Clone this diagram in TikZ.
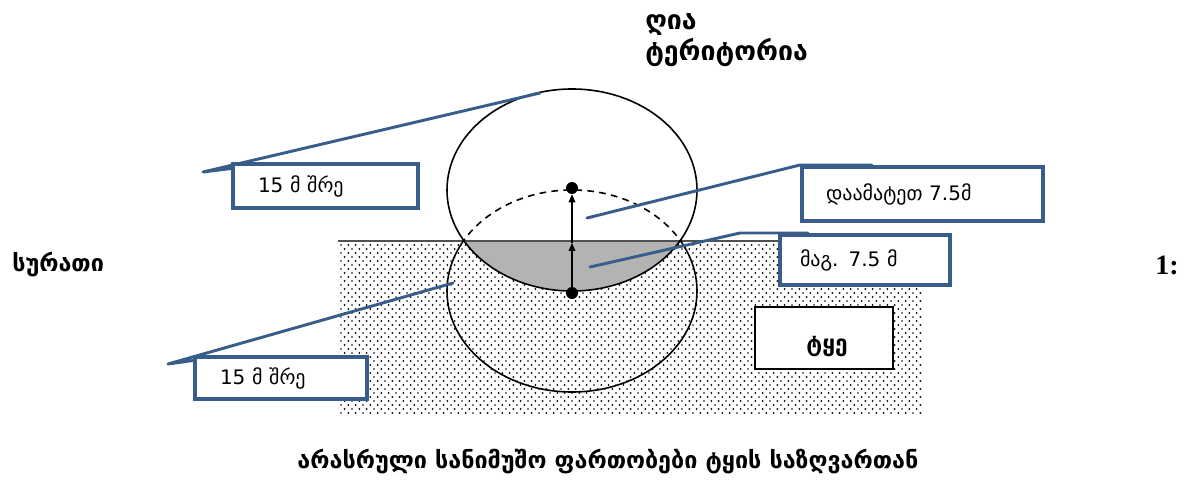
\documentclass[tikz,border=0pt]{standalone}
\usepackage{fontspec}
\setmainfont{DejaVu Sans}
\newfontfamily\numserif{Liberation Serif}
\usetikzlibrary{patterns,arrows.meta}
\pgfdeclarepatternformonly{soildots}{\pgfqpoint{-1pt}{-1pt}}{\pgfqpoint{6.5pt}{7pt}}{\pgfqpoint{5.5pt}{6pt}}{%
  \pgfpathcircle{\pgfqpoint{0pt}{0pt}}{0.7pt}%
  \pgfpathcircle{\pgfqpoint{2.75pt}{3pt}}{0.7pt}%
  \pgfusepath{fill}%
}
\definecolor{cblue}{HTML}{385D8A}
\definecolor{grayfill}{HTML}{B3B3B3}
\definecolor{groundline}{HTML}{505050}
\begin{document}
\begin{tikzpicture}[x=0.75pt,y=-0.75pt,
  cbox/.style={draw=cblue, line width=2.3pt, fill=white, align=left,
    font=\fontsize{15}{17}\selectfont, inner ysep=0pt},
  leader/.style={draw=cblue, line width=2.2pt, line join=round, line cap=round},
  ttl/.style={font=\bfseries\fontsize{17.5}{21}\selectfont, inner sep=0pt},
  dotnode/.style={circle, fill=black, inner sep=0pt, minimum size=9pt},
  rim/.style={line width=1.2pt},
  upar/.style={-{Triangle[length=6pt,width=5pt]}, line width=0.8pt}]

\useasboundingbox (0,0) rectangle (1193,481);

% ground with dots
\fill[pattern=soildots] (338,241) rectangle (922,413);
\begin{scope}
  \clip (338,241) rectangle (922,413);
  \fill[grayfill] (572,190) ellipse [x radius=93.75pt, y radius=75.75pt];
\end{scope}
\draw[line width=1.3pt, groundline] (338,241) -- (922,241);

% lower circle: dashed above ground, solid below
\begin{scope}
  \clip (300,0) rectangle (950,241);
  \draw[rim, dash pattern=on 5pt off 4pt] (572,291) ellipse [x radius=93.75pt, y radius=75.75pt];
\end{scope}
\begin{scope}
  \clip (300,241) rectangle (950,440);
  \draw[rim] (572,291) ellipse [x radius=93.75pt, y radius=75.75pt];
\end{scope}
% upper circle
\draw[rim] (572,190) ellipse [x radius=93.75pt, y radius=75.75pt];

% centre points and arrows
\node[dotnode] (dup) at (572,188) {};
\node[dotnode] (dlow) at (572,293) {};
\coordinate (mid) at (572,243);
\draw[upar] (dlow.center) -- (mid);
\draw[upar] (mid) -- (dup.south);

% forest box
\node[draw=black, line width=1.6pt, fill=white, minimum width=103.5pt, minimum height=46.5pt, inner sep=0pt] (forest) at (824,338) {};
\node[ttl, font=\bfseries\fontsize{17}{20}\selectfont] (forestlbl) at (827,347) {ტყე};

% callout boxes
\node[cbox, minimum height=33pt, text width=101.25pt, inner xsep=18.75pt] (b1) at (325.5,186) {15 მ შრე};
\node[cbox, minimum height=40.5pt, text width=144.75pt, inner xsep=18pt] (b2) at (922.5,194) {დაამატეთ 7.5მ};
\node[cbox, minimum height=37.5pt, text width=97.5pt, inner xsep=15pt] (b3) at (865,260) {მაგ. 7.5 მ};
\node[cbox, minimum height=31.5pt, text width=91.5pt, inner xsep=18.75pt] (b4) at (281,378) {15 მ შრე};

% leaders
\coordinate (p1) at (540,93);
\coordinate (k1) at (203,172);
\draw[leader] (p1) -- (k1) -- ([yshift=-4.5pt]b1.north west);

\coordinate (p2) at (587,218);
\coordinate (k2) at (800,165);
\coordinate (e2) at (872,165);
\draw[leader] (p2) -- (k2) -- (e2);

\coordinate (p3) at (590,267);
\coordinate (k3) at (740,233);
\coordinate (e3) at (808,233);
\draw[leader] (p3) -- (k3) -- (e3);

\coordinate (p4) at (453,283);
\coordinate (k4) at (168,364);
\draw[leader] (p4) -- (k4) -- ([yshift=-3.75pt]b4.north west);

% texts
\node[ttl, font=\bfseries\fontsize{20}{24}\selectfont, anchor=base west] (open1) at (645,30) {ღია};
\node[ttl, font=\bfseries\fontsize{20}{24}\selectfont, anchor=base west] (open2) at (645,61) {ტერიტორია};
\node[ttl, anchor=base west] (fig) at (12,272) {სურათი};
\node[anchor=base west, inner sep=0pt, font=\numserif\bfseries\fontsize{21}{24}\selectfont] (fignum) at (1155,275) {1:};
\node[ttl, anchor=base] (caption) at (608,468) {არასრული სანიმუშო ფართობები ტყის საზღვართან};
\end{tikzpicture}
\end{document}
